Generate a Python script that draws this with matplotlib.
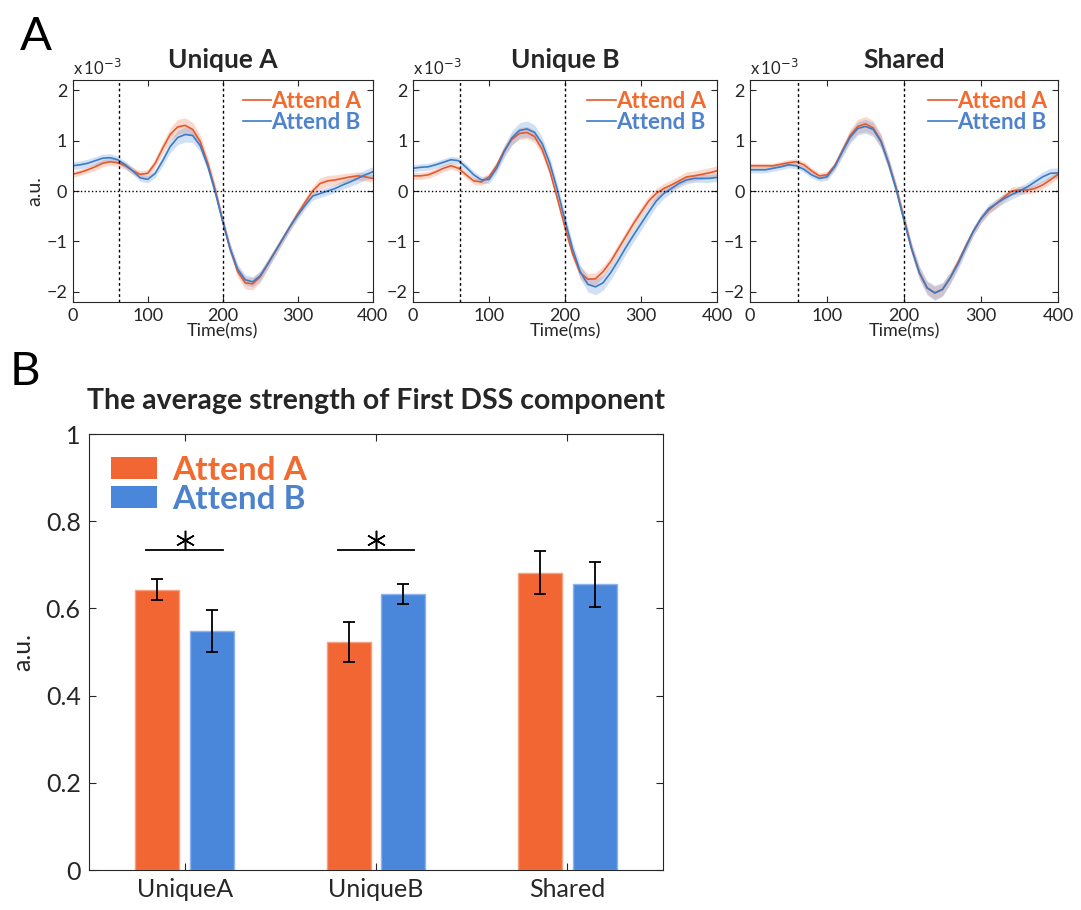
import numpy as np
import matplotlib
matplotlib.use("Agg")
import matplotlib.pyplot as plt
from matplotlib.patches import Patch

plt.rcParams['font.family'] = ['Lato', 'DejaVu Sans']

# ---- Panel A data (values in units of 1e-3, sampled every 10 ms) ----
time_ms = np.arange(0, 401, 10)

uniqueA_attA = [0.33, 0.37, 0.42, 0.48, 0.55, 0.58, 0.56, 0.50, 0.40, 0.33,
                0.35, 0.55, 0.85, 1.12, 1.27, 1.30, 1.22, 0.98, 0.55, 0.02,
                -0.60, -1.15, -1.60, -1.82, -1.84, -1.70, -1.45, -1.20, -0.95, -0.70,
                -0.45, -0.22, 0.00, 0.15, 0.20, 0.22, 0.25, 0.28, 0.30, 0.28, 0.25]
uniqueA_attB = [0.50, 0.52, 0.55, 0.60, 0.65, 0.66, 0.62, 0.52, 0.40, 0.26,
                0.23, 0.35, 0.60, 0.88, 1.06, 1.12, 1.10, 0.90, 0.50, -0.02,
                -0.60, -1.15, -1.55, -1.76, -1.80, -1.68, -1.45, -1.20, -0.95, -0.70,
                -0.48, -0.28, -0.10, -0.05, 0.00, 0.05, 0.12, 0.18, 0.25, 0.32, 0.38]
uniqueB_attA = [0.30, 0.30, 0.32, 0.38, 0.45, 0.50, 0.45, 0.32, 0.20, 0.18,
                0.28, 0.50, 0.80, 1.02, 1.14, 1.16, 1.08, 0.82, 0.40, -0.15,
                -0.72, -1.25, -1.62, -1.75, -1.74, -1.60, -1.40, -1.15, -0.90, -0.65,
                -0.42, -0.20, -0.05, 0.05, 0.12, 0.20, 0.28, 0.30, 0.33, 0.36, 0.40]
uniqueB_attB = [0.45, 0.47, 0.48, 0.52, 0.57, 0.62, 0.60, 0.47, 0.32, 0.22,
                0.23, 0.45, 0.78, 1.05, 1.20, 1.23, 1.16, 0.94, 0.55, 0.02,
                -0.58, -1.15, -1.60, -1.85, -1.90, -1.82, -1.62, -1.38, -1.12, -0.88,
                -0.65, -0.42, -0.20, -0.05, 0.05, 0.15, 0.22, 0.25, 0.25, 0.25, 0.27]
shared_attA = [0.50, 0.50, 0.50, 0.50, 0.53, 0.56, 0.58, 0.52, 0.40, 0.30,
               0.32, 0.50, 0.80, 1.10, 1.28, 1.33, 1.25, 1.00, 0.55, 0.05,
               -0.55, -1.15, -1.62, -1.92, -2.02, -1.95, -1.72, -1.42, -1.10, -0.80,
               -0.55, -0.38, -0.25, -0.12, 0.00, 0.02, 0.02, 0.05, 0.12, 0.22, 0.33]
shared_attB = [0.42, 0.42, 0.42, 0.45, 0.48, 0.52, 0.50, 0.43, 0.32, 0.25,
               0.28, 0.48, 0.78, 1.06, 1.24, 1.28, 1.22, 0.98, 0.55, 0.02,
               -0.58, -1.15, -1.62, -1.92, -2.02, -1.95, -1.72, -1.45, -1.12, -0.80,
               -0.55, -0.35, -0.25, -0.15, -0.07, 0.00, 0.08, 0.18, 0.28, 0.35, 0.36]

# shaded error (SEM), same sampling
sem_uniqueA_attA = [0.06, 0.06, 0.06, 0.07, 0.07, 0.07, 0.07, 0.07, 0.07, 0.07,
                    0.08, 0.09, 0.11, 0.13, 0.15, 0.15, 0.14, 0.13, 0.12, 0.12,
                    0.11, 0.11, 0.11, 0.12, 0.12, 0.11, 0.10, 0.09, 0.08, 0.08,
                    0.08, 0.09, 0.10, 0.11, 0.11, 0.10, 0.09, 0.08, 0.08, 0.08, 0.08]
sem_uniqueA_attB = [0.08, 0.08, 0.08, 0.08, 0.08, 0.08, 0.07, 0.07, 0.07, 0.07,
                    0.07, 0.08, 0.10, 0.12, 0.14, 0.15, 0.14, 0.12, 0.10, 0.10,
                    0.10, 0.10, 0.10, 0.10, 0.10, 0.10, 0.09, 0.08, 0.08, 0.08,
                    0.08, 0.08, 0.08, 0.08, 0.08, 0.08, 0.08, 0.09, 0.10, 0.10, 0.10]
sem_uniqueB_attA = [0.07, 0.07, 0.07, 0.07, 0.07, 0.07, 0.07, 0.07, 0.07, 0.07,
                    0.08, 0.09, 0.10, 0.11, 0.12, 0.12, 0.12, 0.11, 0.10, 0.10,
                    0.10, 0.10, 0.11, 0.12, 0.12, 0.11, 0.10, 0.10, 0.10, 0.10,
                    0.10, 0.10, 0.10, 0.10, 0.10, 0.10, 0.10, 0.10, 0.10, 0.10, 0.10]
sem_uniqueB_attB = [0.07, 0.07, 0.07, 0.07, 0.07, 0.07, 0.07, 0.07, 0.07, 0.07,
                    0.08, 0.10, 0.12, 0.14, 0.15, 0.16, 0.15, 0.13, 0.12, 0.12,
                    0.12, 0.13, 0.14, 0.15, 0.16, 0.15, 0.14, 0.13, 0.13, 0.13,
                    0.13, 0.12, 0.11, 0.10, 0.09, 0.08, 0.08, 0.08, 0.08, 0.08, 0.08]
sem_shared_attA = [0.05, 0.05, 0.05, 0.05, 0.06, 0.06, 0.06, 0.06, 0.06, 0.06,
                   0.07, 0.08, 0.10, 0.12, 0.14, 0.15, 0.14, 0.13, 0.12, 0.11,
                   0.11, 0.11, 0.12, 0.12, 0.13, 0.12, 0.11, 0.10, 0.09, 0.08,
                   0.08, 0.08, 0.08, 0.08, 0.08, 0.08, 0.08, 0.08, 0.08, 0.08, 0.08]
sem_shared_attB = [0.06, 0.06, 0.06, 0.06, 0.06, 0.06, 0.06, 0.06, 0.06, 0.06,
                   0.07, 0.08, 0.10, 0.12, 0.13, 0.14, 0.14, 0.13, 0.12, 0.11,
                   0.11, 0.12, 0.13, 0.14, 0.15, 0.14, 0.12, 0.11, 0.10, 0.09,
                   0.09, 0.09, 0.09, 0.09, 0.09, 0.09, 0.09, 0.09, 0.10, 0.10, 0.10]

panel_titles = ["Unique A", "Unique B", "Shared"]
vlines_ms = [62, 200]

# ---- Panel B data ----
categories = ["UniqueA", "UniqueB", "Shared"]
strength_attA = [0.643, 0.522, 0.682]
strength_attB = [0.548, 0.633, 0.655]
err_attA = [0.024, 0.046, 0.049]
err_attB = [0.048, 0.022, 0.052]
sig_pairs = [0, 1]   # groups with significant difference

ORANGE = "#F26634"
BLUE = "#4A87DB"
LINE_OR = "#E8582B"
LINE_BL = "#3A7CC6"
TXT_OR = "#F26A2E"
TXT_BL = "#4F82CC"
DARK = '#262626'

fig = plt.figure(figsize=(10.81, 9.10), dpi=100)

curves = [(uniqueA_attA, uniqueA_attB, sem_uniqueA_attA, sem_uniqueA_attB),
          (uniqueB_attA, uniqueB_attB, sem_uniqueB_attA, sem_uniqueB_attB),
          (shared_attA, shared_attB, sem_shared_attA, sem_shared_attB)]
lefts = [72.7, 413.0, 750.0]
widths = [300.0, 304.0, 308.0]

for i, (ya, yb, sa, sb) in enumerate(curves):
    ax = fig.add_axes([lefts[i] / 1081, (910 - 302) / 910, widths[i] / 1081, 222 / 910])
    ya, yb, sa, sb = map(np.array, (ya, yb, sa, sb))
    ax.fill_between(time_ms, ya - sa, ya + sa, color=ORANGE, alpha=0.25, lw=0)
    ax.fill_between(time_ms, yb - sb, yb + sb, color=BLUE, alpha=0.25, lw=0)
    ax.plot(time_ms, ya, color=LINE_OR, lw=1.2, label="Attend A")
    ax.plot(time_ms, yb, color=LINE_BL, lw=1.2, label="Attend B")
    ax.axhline(0, color='k', ls=':', lw=1)
    for v in vlines_ms:
        ax.axvline(v, color='k', ls=(0, (2, 2)), lw=1)
    ax.set_xlim(0, 400)
    ax.set_ylim(-2.2, 2.2)
    ax.set_xticks([0, 100, 200, 300, 400])
    ax.set_yticks([-2, -1, 0, 1, 2])
    ax.tick_params(direction='in', top=True, right=True, labelsize=13,
                   colors=DARK, length=4, pad=4)
    for s in ax.spines.values():
        s.set_color(DARK)
    ax.set_xlabel("Time(ms)", fontsize=13, labelpad=0, color=DARK)
    if i == 0:
        ax.set_ylabel("a.u.", fontsize=14, labelpad=2, color=DARK)
    ax.set_title(panel_titles[i], fontsize=19, fontweight='bold', color=DARK, pad=9)
    ax.text(0.0, 1.01, r"x$\,$10$^{-3}$", transform=ax.transAxes, fontsize=12,
            color=DARK, va='bottom', ha='left')
    ax.legend(loc='upper right', frameon=False, handlelength=1.3,
              handletextpad=0.0, borderaxespad=0.1, labelspacing=0.0,
              prop={'weight': 'bold', 'size': 16}, labelcolor=[TXT_OR, TXT_BL])

fig.text(20 / 1081, 1 - 50 / 910, "A", fontsize=34, color='k')
fig.text(10 / 1081, 1 - 385 / 910, "B", fontsize=34, color='k')

# ---- Panel B ----
axb = fig.add_axes([89 / 1081, (910 - 870) / 910, 574 / 1081, 436 / 910])
x = np.arange(1, len(categories) + 1)
off = 0.143
bw = 0.23
axb.bar(x - off, strength_attA, bw, color=ORANGE, edgecolor='#F5A07E', lw=1,
        yerr=err_attA, error_kw=dict(ecolor='k', capsize=4, elinewidth=1.3, capthick=1.3))
axb.bar(x + off, strength_attB, bw, color=BLUE, edgecolor='#8DB4EC', lw=1,
        yerr=err_attB, error_kw=dict(ecolor='k', capsize=4, elinewidth=1.3, capthick=1.3))
for g in sig_pairs:
    xc = x[g]
    axb.plot([xc - 0.2, xc + 0.2], [0.733, 0.733], color='k', lw=1.3)
    axb.plot([xc], [0.758], marker=(6, 2, 0), ms=14, mew=1.1, color='k')
axb.set_xlim(0.5, 3.5)
axb.set_ylim(0, 1)
axb.set_xticks(x)
axb.set_xticklabels(categories)
axb.set_yticks([0, 0.2, 0.4, 0.6, 0.8, 1])
axb.set_yticklabels(["0", "0.2", "0.4", "0.6", "0.8", "1"])
axb.tick_params(direction='in', top=True, right=True, labelsize=18,
                colors=DARK, length=5, pad=6)
for s in axb.spines.values():
    s.set_color(DARK)
axb.set_ylabel("a.u.", fontsize=18, color=DARK, labelpad=8)
axb.set_title("The average strength of First DSS component", fontsize=20.5,
              fontweight='bold', color=DARK, pad=18)
handles = [Patch(facecolor=ORANGE, label="Attend A"), Patch(facecolor=BLUE, label="Attend B")]
axb.legend(handles=handles, loc='upper left', frameon=False, handlelength=1.4,
           handleheight=0.65, handletextpad=0.45, labelspacing=0.0,
           borderaxespad=0.25, prop={'weight': 'bold', 'size': 24},
           labelcolor=[TXT_OR, TXT_BL])

fig.savefig("out.png", dpi=100)
